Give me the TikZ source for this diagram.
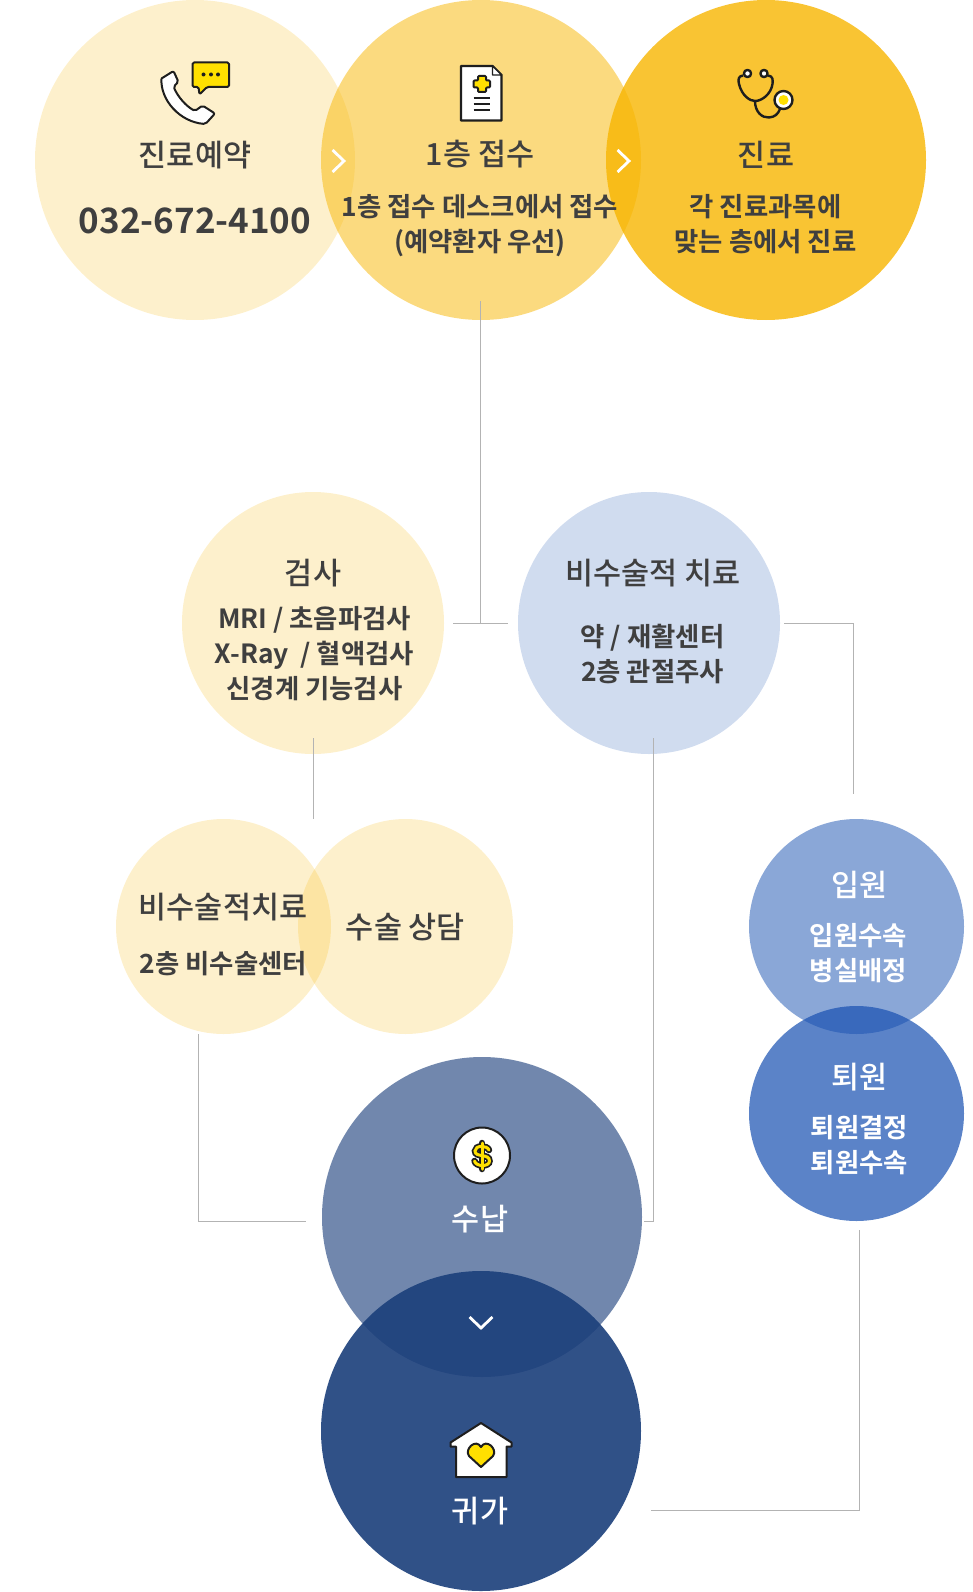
\documentclass[tikz,border=0pt]{standalone}
\usepackage{fontspec}
\setmainfont{Noto Sans CJK KR}[BoldFont={Noto Sans CJK KR Bold}]
\newfontfamily\krmed{Noto Sans CJK KR Medium}
\definecolor{stepyellow}{HTML}{F7B500}
\definecolor{stepblue}{HTML}{164FB0}
\definecolor{stepnavy}{HTML}{1A3E7A}
\definecolor{steptext}{HTML}{3F3F3F}
\definecolor{linkgray}{HTML}{B3B3B3}
\definecolor{iconyellow}{HTML}{FFE000}
\definecolor{iconline}{HTML}{1E1E1E}
\tikzset{
  stepcircle/.style={circle, draw=none, inner sep=0pt, minimum size=#1},
  titletext/.style={font=\krmed\fontsize{30.5}{35}\selectfont, text=steptext, align=center, inner sep=0pt},
  subtext/.style={font=\bfseries\fontsize{26.4}{35}\selectfont, text=steptext, align=center, inner sep=0pt},
  link/.style={draw=linkgray, line width=1pt},
  chevron/.style={draw=white, line width=2.8pt},
  iconpath/.style={draw=iconline, line width=2pt, line join=round}
}
\begin{document}
\begin{tikzpicture}[x=1pt,y=-1pt]
\useasboundingbox (0,0) rectangle (972,1592);
\node[stepcircle=320, fill=stepyellow, fill opacity=.2] (reserve) at (195,160) {};
\node[stepcircle=320, fill=stepyellow, fill opacity=.5] (desk) at (481,160) {};
\node[stepcircle=320, fill=stepyellow, fill opacity=.8] (clinic) at (766,160) {};
\node[stepcircle=262, fill=stepyellow, fill opacity=.2] (exam) at (313,623) {};
\node[stepcircle=262, fill=stepblue, fill opacity=.2] (conserv) at (649,623) {};
\node[stepcircle=215, fill=stepyellow, fill opacity=.2] (center) at (223.5,926.5) {};
\node[stepcircle=215, fill=stepyellow, fill opacity=.2] (consult) at (405.5,926.5) {};
\node[stepcircle=215, fill=stepblue, fill opacity=.5] (admit) at (856.5,926.5) {};
\node[stepcircle=215, fill=stepblue, fill opacity=.7] (leave) at (856.5,1113.5) {};
\node[stepcircle=320, fill=stepnavy, fill opacity=.62] (pay) at (482,1217) {};
\node[stepcircle=320, fill=stepnavy, fill opacity=.9] (home) at (481,1431) {};

\coordinate (deskdown) at (480.5,301);
\coordinate (examright) at (453,623.5);
\coordinate (conservleft) at (508,623.5);
\coordinate (examdown) at (313.5,738);
\coordinate (examend) at (313.5,819);
\coordinate (conservright) at (784,623.5);
\coordinate (admittop) at (853.5,794);
\coordinate (conservdown) at (653.5,738);
\coordinate (payright) at (644,1221.5);
\coordinate (centerdown) at (198.5,1034);
\coordinate (payleft) at (306,1221.5);
\coordinate (leavedown) at (859.5,1230);
\coordinate (homeright) at (651,1510);
\draw[link] (deskdown) -- (deskdown |- examright);
\draw[link] (examright) -- (conservleft);
\draw[link] (examdown) -- (examend);
\draw[link] (conservright) -| (admittop);
\draw[link] (conservdown) |- (payright);
\draw[link] (centerdown) |- (payleft);
\draw[link] (leavedown) |- (homeright);

\node[titletext] (reservetitle) at (195,155) {진료예약};
\node[subtext, font=\bfseries\fontsize{35}{40}\selectfont] (reservephone) at (195,221) {032-672-4100};
\node[titletext] (desktitle) at (480,154.5) {1층 접수};
\node[subtext] (desksub) at (480,226) {1층 접수 데스크에서 접수\\(예약환자 우선)};
\node[titletext] (clinictitle) at (766,155) {진료};
\node[subtext] (clinicsub) at (765.5,224.5) {각 진료과목에\\맞는 층에서 진료};
\node[titletext] (examtitle) at (313,573) {검사};
\node[subtext] (examsub) at (314.5,654) {MRI / 초음파검사\\X-Ray\ \ / 혈액검사\\신경계 기능검사};
\node[titletext] (conservtitle) at (653,573) {비수술적 치료};
\node[subtext] (conservsub) at (652.5,654.5) {약 / 재활센터\\2층 관절주사};
\node[titletext] (centertitle) at (223,907) {비수술적치료};
\node[subtext] (centersub) at (223.5,964) {2층 비수술센터};
\node[titletext] (consulttitle) at (405.5,927) {수술 상담};
\node[titletext, text=white] (admittitle) at (859.5,885) {입원};
\node[subtext, text=white] (admitsub) at (858.5,953) {입원수속\\병실배정};
\node[titletext, text=white] (leavetitle) at (859.5,1077) {퇴원};
\node[subtext, text=white] (leavesub) at (859.5,1145) {퇴원결정\\퇴원수속};
\node[titletext, text=white] (paytitle) at (480,1219) {수납};
\node[titletext, text=white] (hometitle) at (480,1511) {귀가};

\draw[chevron] (332.5,150) -- (344,161) -- (332.5,172);
\draw[chevron] (617.5,150) -- (629,161) -- (617.5,172);
\draw[chevron] (469.5,1317) -- (481,1328) -- (492.5,1317);

\draw[iconpath, fill=white, rounded corners=2pt] (161.5,78.5) -- (173.5,71) -- (178.5,82) -- (173.5,86.5) .. controls (178,97) and (186,106) .. (195,111) -- (202.5,105.5) -- (215,113.5) -- (205.5,124) .. controls (180,122) and (160,100) .. (161.5,78.5);
\draw[iconpath, fill=iconyellow, rounded corners=1.5pt] (192.5,62.5) -- (229,62.5) -- (229,87) -- (207,87) -- (199.5,94.5) -- (198.5,87) -- (192.5,87) -- cycle;
\fill[iconline] (203.5,74.5) circle (2) (211,74.5) circle (2) (218,74.5) circle (2);

\draw[iconpath, fill=white, line width=2.4pt] (461,66) -- (492.5,66) -- (501.5,75) -- (501.5,120.5) -- (461,120.5) -- cycle;
\draw[iconpath, fill=white, line width=1.2pt] (492.5,66) -- (492.5,75) -- (501.5,75) -- cycle;
\draw[iconpath, fill=iconyellow, rounded corners=1pt] (478,76) -- (486,76) -- (486,80.5) -- (490,80.5) -- (490,87.5) -- (486,87.5) -- (486,92) -- (478,92) -- (478,87.5) -- (473.5,87.5) -- (473.5,80.5) -- (478,80.5) -- cycle;
\draw[iconline, line width=2pt] (473.5,98.5) -- (490,98.5) (473.5,104.5) -- (490,104.5) (473.5,110.5) -- (490,110.5);

\draw[iconpath, line width=2.4pt] (743,75.5) .. controls (738,76) and (738,80) .. (739,84) .. controls (742,96) and (750,101) .. (755,101) .. controls (762,101) and (771,94) .. (772.5,84) .. controls (773,80) and (773,76) .. (768,75.5);
\draw[iconpath, line width=2.4pt] (755,101) .. controls (755,112) and (762,118) .. (769,117.5) .. controls (775,117) and (778,114) .. (780,109);
\draw[iconpath, fill=white, line width=2.4pt] (747.5,73.5) circle (3.6);
\draw[iconpath, fill=white, line width=2.4pt] (764,73.5) circle (3.6);
\draw[iconpath, fill=white, line width=2.4pt] (783.5,100) circle (9);
\fill[iconyellow] (783.5,100) circle (5);

\draw[iconpath, fill=white] (482,1155.5) circle (28);
\draw[iconline, line width=6.5pt, line cap=round] (482,1143) -- (482,1169);
\draw[iconline, line width=6.5pt, line cap=round] (489,1150) .. controls (487,1145) and (475,1145) .. (475,1151) .. controls (475,1158) and (489.5,1153) .. (489.5,1161) .. controls (489.5,1167) and (476,1167) .. (474.5,1161);
\draw[iconyellow, line width=3pt, line cap=round] (482,1143) -- (482,1169);
\draw[iconyellow, line width=3pt, line cap=round] (489,1150) .. controls (487,1145) and (475,1145) .. (475,1151) .. controls (475,1158) and (489.5,1153) .. (489.5,1161) .. controls (489.5,1167) and (476,1167) .. (474.5,1161);

\draw[iconpath, fill=white] (481,1423) -- (511.5,1442.5) -- (511.5,1446.5) -- (506.5,1446.5) -- (506.5,1477) -- (456,1477) -- (456,1446.5) -- (450.5,1446.5) -- (450.5,1442.5) -- cycle;
\draw[iconpath, fill=iconyellow] (481,1467) -- (469,1456) .. controls (464,1449) and (476,1438) .. (481,1447) .. controls (486,1438) and (498,1449) .. (493,1456) -- cycle;
\end{tikzpicture}
\end{document}
